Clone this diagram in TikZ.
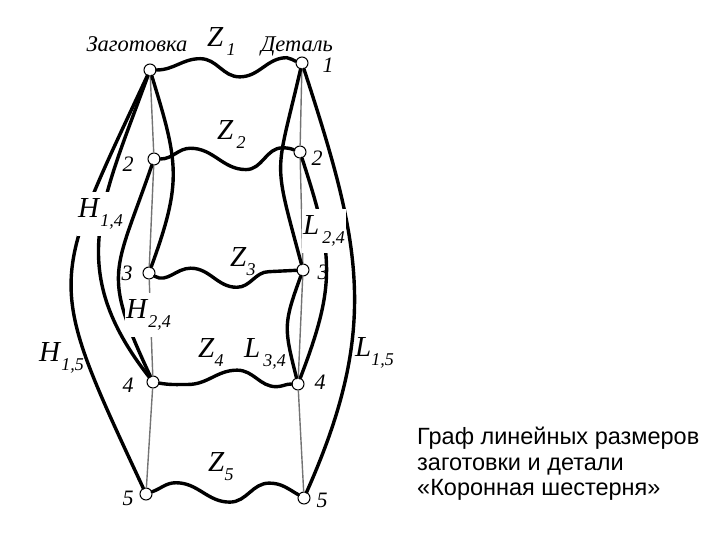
\documentclass[tikz,border=0pt]{standalone}
\usepackage{fontspec}
\setmainfont{Liberation Serif}
\newfontfamily\capfont{Liberation Sans}
\usetikzlibrary{calc}

\newcommand{\dimlab}[2]{\textit{#1}\raisebox{-0.3em}{\fontsize{18}{18}\selectfont\textit{#2}}}

\begin{document}
\begin{tikzpicture}[x=1pt,y=1pt,
  pt/.style={draw,circle,fill=white,line width=1pt,inner sep=0pt,minimum size=12pt},
  ax/.style={line width=1.4pt,black!55},
  arc/.style={line width=3.4pt,line cap=round},
  num/.style={font=\fontsize{22}{22}\selectfont\itshape,inner sep=0pt},
  lab/.style={font=\fontsize{29}{29}\selectfont,inner sep=0pt,anchor=base west},
  cut/.style={fill=white,inner xsep=1pt,inner ysep=7pt},
  head/.style={font=\fontsize{22.5}{22.5}\selectfont\itshape,inner sep=0pt,anchor=base}]
\useasboundingbox (0,0) rectangle (720,540);
% blank column
\node[pt] (a1) at (150,470) {};
\node[pt] (a2) at (154,381) {};
\node[pt] (a3) at (149,267) {};
\node[pt] (a4) at (153,158) {};
\node[pt] (a5) at (146,46)  {};
% part column
\node[pt] (b1) at (302,477) {};
\node[pt] (b2) at (300,388) {};
\node[pt] (b3) at (303,270) {};
\node[pt] (b4) at (298,156) {};
\node[pt] (b5) at (304,42)  {};
\draw[ax] (a1) -- (a2) -- (a3) -- (a4) -- (a5);
\draw[ax] (b1) -- (b2) -- (b3) -- (b4) -- (b5);
% H and L sizes
\draw[arc] (a1) to[out=245,in=115,looseness=1.45] (a5);
\draw[arc] (a1) to[out=250,in=128,looseness=1.16] (a4);
\draw[arc] (a2) to[out=251,in=115,looseness=1.4]  (a4);
\draw[arc] (a1) to[out=287,in=70,looseness=1.22]  (a3);
\draw[arc] (b1) to[out=288,in=66,looseness=1.1]   (b5);
\draw[arc] (b2) to[out=288,in=69,looseness=1.18]  (b4);
\draw[arc] (b1) to[out=257,in=105,looseness=1.47] (b3);
\draw[arc] (b3) to[out=250,in=104,looseness=1.3]  (b4);
% allowances Z
\draw[arc] (a1) to[out=0,in=180] ($(a1)!.33!(b1)+(0,9)$) to[out=0,in=180] ($(a1)!.59!(b1)+(0,-11)$)
  to[out=0,in=180] ($(a1)!.9!(b1)+(0,6)$) to[out=0,in=165] (b1);
\draw[arc] (a2) to[out=0,in=180] ($(a2)!.25!(b2)+(0,9)$) to[out=0,in=180] ($(a2)!.63!(b2)+(0,-15)$)
  to[out=0,in=180] ($(a2)!.88!(b2)+(0,5)$) to[out=0,in=160] (b2);
\draw[arc] (a3) to[out=-30,in=180] ($(a3)!.27!(b3)+(0,4)$) to[out=0,in=180] ($(a3)!.57!(b3)+(0,-16)$)
  to[out=0,in=180] ($(a3)!.78!(b3)+(0,-1)$) -- (b3);
\draw[arc] (a4) to[out=-10,in=180] ($(a4)!.24!(b4)+(0,-2)$) to[out=0,in=180] ($(a4)!.58!(b4)+(0,13)$)
  to[out=0,in=180] ($(a4)!.85!(b4)+(0,-3)$) to[out=0,in=180] (b4);
\draw[arc] (a5) to[out=20,in=180] ($(a5)!.19!(b5)+(0,12)$) to[out=0,in=180] ($(a5)!.53!(b5)+(0,-6)$)
  to[out=0,in=180] ($(a5)!.78!(b5)+(0,14)$) to[out=0,in=150] (b5);
% labels
\node[head] (hb) at (137,488) {Заготовка};
\node[head] (hp) at (297,488) {Деталь};
\node[num] (na2) at (128,376) {2};
\node[num] (na3) at (127,267) {3};
\node[num] (na4) at (128,155) {4};
\node[num] (na5) at (128,42)  {5};
\node[num] (nb1) at (328,475) {1};
\node[num] (nb2) at (317,382) {2};
\node[num] (nb3) at (323,268) {3};
\node[num] (nb4) at (320,158) {4};
\node[num] (nb5) at (322,40)  {5};
\node[lab]     (z1)  at (207,493) {\dimlab{Z}{\,1}};
\node[lab]     (z2)  at (217,400) {\dimlab{Z}{\,2}};
\node[lab]     (z3)  at (230,273) {\dimlab{Z}{3}};
\node[lab]     (z4)  at (198,182) {\dimlab{Z}{4}};
\node[lab]     (z5)  at (208,68)  {\dimlab{Z}{5}};
\node[lab,cut] (h14) at (77,322)  {\dimlab{H}{1,4}};
\node[lab,cut] (h24) at (125,221) {\dimlab{H}{2,4}};
\node[lab]     (h15) at (39,178)  {\dimlab{H}{1,5}};
\node[lab,cut] (l24) at (302,305) {\dimlab{L}{\,2,4}};
\node[lab]     (l34) at (244,182) {\dimlab{L}{\,3,4}};
\node[lab]     (l15) at (355,183) {\dimlab{L}{1,5}};
\node[font=\capfont\fontsize{23.5}{25.5}\selectfont,align=left,anchor=base west,inner sep=0pt] (cap) at (417,44)
  {Граф линейных размеров\\заготовки и детали\\«Коронная шестерня»};
\end{tikzpicture}
\end{document}
